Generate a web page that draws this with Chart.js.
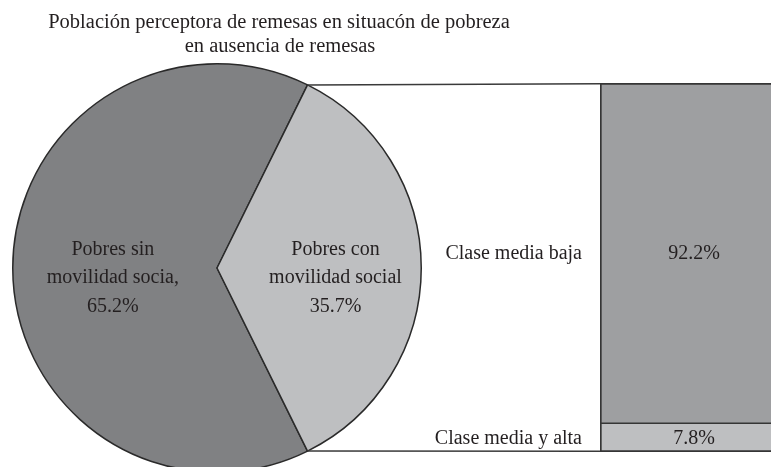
<!DOCTYPE html>
<html>
<head>
<meta charset="utf-8">
<script src="https://cdn.jsdelivr.net/npm/chart.js@4"></script>
<style>
    html, body { margin: 0; padding: 0; background: #ffffff; overflow: hidden; width: 771px; height: 467px; }
    canvas { position: absolute; left: 0; top: 0; }
    #grafico_barra { pointer-events: none; }
</style>
</head>
<body>
<canvas id="grafico_pizza" width="771" height="480"></canvas>
<canvas id="grafico_barra" width="788" height="467"></canvas>
<script>
// dados
var titulo = ['Población perceptora de remesas en situacón de pobreza', 'en ausencia de remesas'];
var pizza_labels = [['Pobres sin', 'movilidad socia,'], ['Pobres con', 'movilidad social']];
var pizza_valores = [65.2, 35.7];
var barra_labels = ['Clase media y alta', 'Clase media baja'];
var barra_valores = [7.8, 92.2];

var fonte = '20px "Liberation Serif", "Times New Roman", serif';
var fonte_titulo = '20.5px "Liberation Serif", "Times New Roman", serif';
var cor_texto = '#231f20';

function formatar(v) {
    return v.toFixed(1) + '%';
}

// giro para deixar a fatia clara centrada a direita
var total = pizza_valores[0] + pizza_valores[1];
var rotacao = 90 + (pizza_valores[1] / total * 360) / 2;

var plugin_textos_pizza = {
    id: 'textos_pizza',
    afterDatasetsDraw(chart) {
        var ctx = chart.ctx;
        ctx.save();
        ctx.fillStyle = cor_texto;
        ctx.textAlign = 'center';
        ctx.textBaseline = 'middle';

        // titulo
        ctx.font = fonte_titulo;
        ctx.fillText(titulo[0], 279, 23);
        ctx.fillText(titulo[1], 280, 47);

        ctx.font = fonte;
        var arcos = chart.getDatasetMeta(0).data;
        var raio_rel = [0.51, 0.58];
        for (var i = 0; i < arcos.length; i++) {
            var a = arcos[i];
            var meio = (a.startAngle + a.endAngle) / 2;
            var px = a.x + Math.cos(meio) * a.outerRadius * raio_rel[i];
            var py = a.y + Math.sin(meio) * a.outerRadius * raio_rel[i] + 10;
            var linhas = pizza_labels[i].concat([formatar(pizza_valores[i])]);
            for (var j = 0; j < linhas.length; j++) {
                ctx.fillText(linhas[j], px, py + (j - 1) * 28.5);
            }
        }
        ctx.restore();
    }
};

var grafico_pizza = new Chart(document.getElementById('grafico_pizza'), {
    type: 'pie',
    data: {
        labels: pizza_labels.map(l => l.join(' ')),
        datasets: [{
            data: pizza_valores,
            backgroundColor: ['rgb(128, 129, 131)', 'rgb(190, 191, 193)'],
            borderColor: '#2a2a2a',
            borderWidth: 1.5,
            hoverOffset: 0
        }]
    },
    options: {
        responsive: false,
        animation: false,
        devicePixelRatio: 1,
        events: [],
        rotation: rotacao,
        layout: { padding: { left: 12, top: 63, right: 349, bottom: 7 } },
        plugins: {
            legend: { display: false },
            tooltip: { enabled: false }
        }
    },
    plugins: [plugin_textos_pizza]
});

var plugin_barra = {
    id: 'barra_extras',
    afterDatasetsDraw(chart) {
        var ctx = chart.ctx;
        var baixo = chart.getDatasetMeta(0).data[0];
        var cima = chart.getDatasetMeta(1).data[0];
        var esq = cima.x - cima.width / 2;
        var topo = cima.y;
        var base = baixo.base;

        // linhas de ligacao com a fatia da pizza
        var arco = grafico_pizza.getDatasetMeta(0).data[1];
        var r = arco.outerRadius;
        ctx.save();
        ctx.strokeStyle = '#3a3a3a';
        ctx.lineWidth = 1.5;
        ctx.beginPath();
        ctx.moveTo(arco.x + Math.cos(arco.startAngle) * r, arco.y + Math.sin(arco.startAngle) * r);
        ctx.lineTo(esq, topo + 0.75);
        ctx.moveTo(arco.x + Math.cos(arco.endAngle) * r, arco.y + Math.sin(arco.endAngle) * r);
        ctx.lineTo(esq, base - 0.75);
        ctx.stroke();

        // textos
        ctx.font = fonte;
        ctx.fillStyle = cor_texto;
        ctx.textBaseline = 'middle';
        var barras = [baixo, cima];
        for (var i = 0; i < barras.length; i++) {
            var meio_y = (barras[i].y + barras[i].base) / 2 + 1;
            ctx.textAlign = 'right';
            ctx.fillText(barra_labels[i], esq - 18, meio_y);
            ctx.textAlign = 'center';
            ctx.fillText(formatar(barra_valores[i]), barras[i].x, meio_y);
        }
        ctx.restore();
    }
};

new Chart(document.getElementById('grafico_barra'), {
    type: 'bar',
    data: {
        labels: [''],
        datasets: [{
            label: barra_labels[0],
            data: [barra_valores[0]],
            backgroundColor: 'rgb(190, 191, 193)',
            borderColor: '#353535',
            borderWidth: { top: 1, left: 2, bottom: 2, right: 0 },
            borderSkipped: false,
            barPercentage: 1,
            categoryPercentage: 1
        }, {
            label: barra_labels[1],
            data: [barra_valores[1]],
            backgroundColor: 'rgb(158, 159, 161)',
            borderColor: '#353535',
            borderWidth: { top: 2, left: 2, bottom: 1, right: 0 },
            borderSkipped: false,
            barPercentage: 1,
            categoryPercentage: 1
        }]
    },
    options: {
        responsive: false,
        animation: false,
        devicePixelRatio: 1,
        events: [],
        layout: { padding: { left: 600, top: 83, right: 0, bottom: 15 } },
        scales: {
            x: { display: false, stacked: true },
            y: { display: false, stacked: true, min: 0, max: 100 }
        },
        plugins: {
            legend: { display: false },
            tooltip: { enabled: false }
        }
    },
    plugins: [plugin_barra]
});
</script>
</body>
</html>
